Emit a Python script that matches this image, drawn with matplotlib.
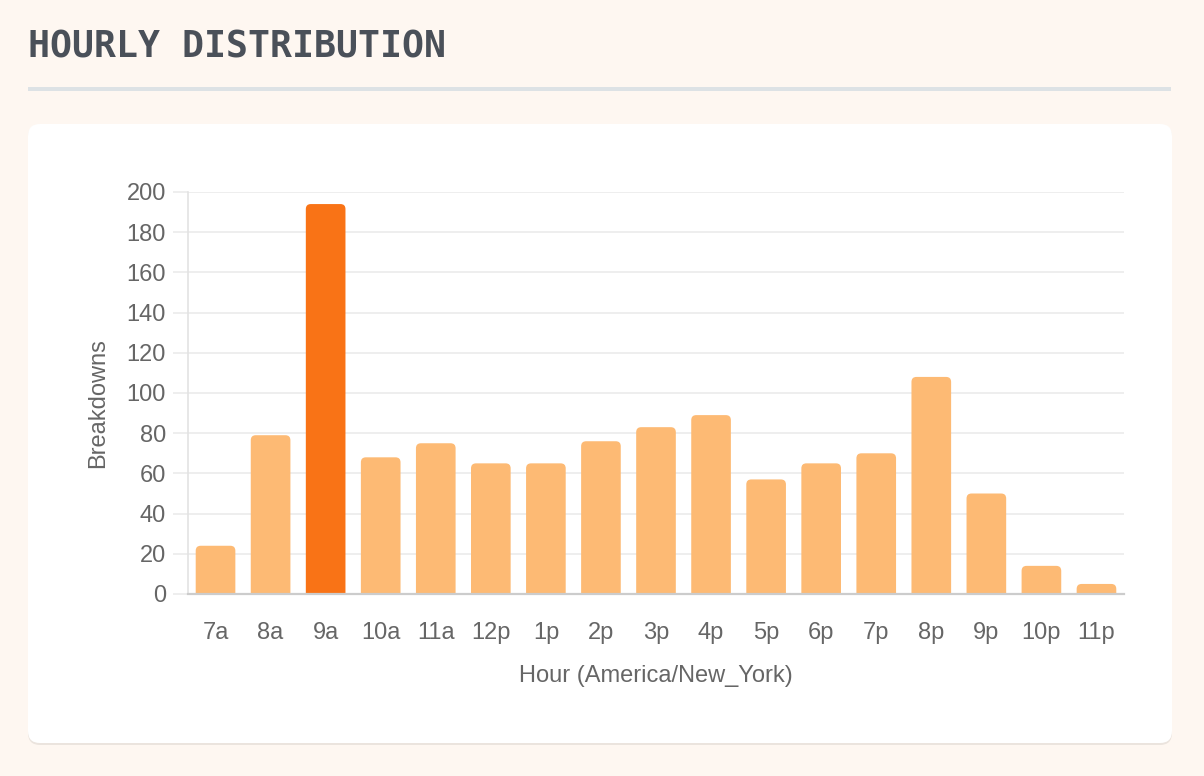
import matplotlib.pyplot as plt
from matplotlib.patches import FancyBboxPatch, Rectangle
from matplotlib.transforms import IdentityTransform

hours = ['7a', '8a', '9a', '10a', '11a', '12p', '1p', '2p', '3p', '4p',
         '5p', '6p', '7p', '8p', '9p', '10p', '11p']
breakdowns = [24, 79, 194, 68, 75, 65, 65, 76, 83, 89, 57, 65, 70, 108, 50, 14, 5]
peak_hour = '9a'

W, H = 1204, 776
bg = '#fef7f1'
light_orange = '#fdba74'
dark_orange = '#f97316'
tick_color = '#666666'
grid_color = '#ebebeb'

plt.rcParams['font.family'] = ['Liberation Sans', 'DejaVu Sans']

fig = plt.figure(figsize=(W / 100, H / 100), dpi=100, facecolor=bg)

# page title + underline
fig.text(28 / W, 1 - 47 / H, 'HOURLY DISTRIBUTION', family='DejaVu Sans Mono',
         fontweight='bold', fontsize=26.3, color='#4a5059', va='center', ha='left')
fig.add_artist(Rectangle((28, H - 91), 1143, 4, transform=IdentityTransform(),
                         facecolor='#dde2e5', edgecolor='none', zorder=-1))

# white card with soft shadow (drawn behind the axes)
shadow = FancyBboxPatch((28, H - 745), 1144, 620, boxstyle='round,pad=0,rounding_size=12',
                        transform=IdentityTransform(), facecolor='#ebe4de',
                        edgecolor='none', zorder=-2)
card = FancyBboxPatch((28, H - 743), 1144, 619, boxstyle='round,pad=0,rounding_size=12',
                      transform=IdentityTransform(), facecolor='white',
                      edgecolor='none', zorder=-1)
fig.add_artist(shadow)
fig.add_artist(card)

# plot area in pixels: x 188..1124, y 192..594
ax_l, ax_r, ax_t, ax_b = 188, 1124, 192, 594
ax = fig.add_axes([ax_l / W, 1 - ax_b / H, (ax_r - ax_l) / W, (ax_b - ax_t) / H])
ax.set_facecolor('none')

n = len(hours)
x = list(range(n))
colors = [dark_orange if h == peak_hour else light_orange for h in hours]
bars = ax.bar(x, breakdowns, width=0.72, color=colors)

ax.set_xlim(-0.5, n - 0.5)
ax.set_ylim(0, 200)

# swap plain bars for bars with rounded tops
px_x = (ax_r - ax_l) / n
px_y = (ax_b - ax_t) / 200
rx = 5 / px_x
ry = 5 / px_y
for rect in bars.patches:
    rb = FancyBboxPatch((rect.get_x(), -ry), rect.get_width(), rect.get_height() + ry,
                        boxstyle=f'round,pad=0,rounding_size={rx}',
                        mutation_aspect=ry / rx, facecolor=rect.get_facecolor(),
                        edgecolor='none')
    rect.remove()
    ax.add_patch(rb)

ax.set_yticks(range(0, 201, 20))
ax.set_xticks(x)
ax.set_xticklabels(hours)
ax.set_axisbelow(True)
ax.yaxis.grid(True, color=grid_color, linewidth=1.2)
ax.tick_params(axis='y', length=11, width=1.2, color=grid_color, pad=5,
               labelsize=17, labelcolor=tick_color)
ax.tick_params(axis='x', length=0, pad=20, labelsize=17, labelcolor=tick_color)

for s in ['top', 'right']:
    ax.spines[s].set_visible(False)
ax.spines['left'].set_color('#e3e3e3')
ax.spines['left'].set_linewidth(1.2)
ax.spines['bottom'].set_color('#cccccc')
ax.spines['bottom'].set_linewidth(1.6)

fig.text(656 / W, 1 - 676 / H, 'Hour (America/New_York)', fontsize=17,
         color=tick_color, ha='center', va='center')
fig.text(98 / W, 1 - 403 / H, 'Breakdowns', fontsize=17, color=tick_color,
         ha='center', va='center', rotation=90)

fig.savefig('out.png', dpi=100, facecolor=bg)
